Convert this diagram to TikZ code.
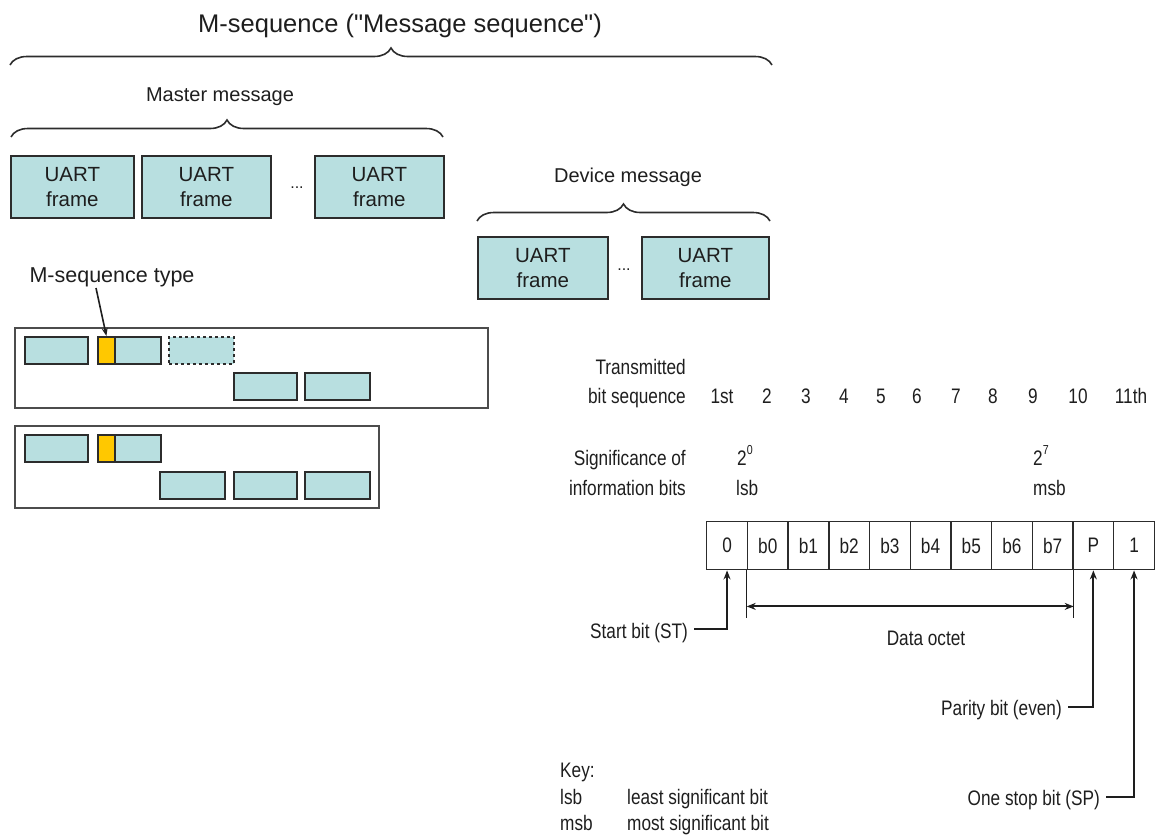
\documentclass[tikz,border=0pt]{standalone}
\usepackage{fontspec}
\setmainfont{Liberation Sans}
\newfontfamily\titlefont{Liberation Sans}[Ligatures=TeXOff]
\newfontfamily\narrowfont{Liberation Sans}[FakeStretch=0.82]
\usetikzlibrary{decorations.pathreplacing,arrows.meta}
\definecolor{framefill}{HTML}{B8DFE0}
\definecolor{typefill}{HTML}{FFC800}
\definecolor{ink}{HTML}{1E1E1E}
\definecolor{edge}{HTML}{2C2C2C}
\tikzset{
  uart/.style={draw=edge, line width=1.8pt, fill=framefill, align=center,
    anchor=north west, inner sep=0pt, font=\fontsize{20.5}{25}\selectfont,
    text=ink},
  slot/.style={draw=edge, line width=1.8pt, fill=framefill, anchor=north west,
    inner sep=0pt, minimum height=27pt},
  typeslot/.style={slot, fill=typefill, minimum width=17pt},
  seqbox/.style={draw=edge!85, line width=2.2pt, anchor=north west, inner sep=0pt},
  overbrace/.style={decorate, decoration={brace, amplitude=17pt}, draw=edge,
    line width=1.6pt},
  toptext/.style={text=ink, font=\fontsize{20}{24}\selectfont, inner sep=0pt},
  bittext/.style={text=ink, font=\narrowfont\fontsize{21}{26}\selectfont,
    inner sep=0pt},
  bitcell/.style={draw=edge, line width=1.4pt, minimum width=40.7pt,
    minimum height=48pt, inner sep=0pt, anchor=north west, text=ink,
    font=\narrowfont\fontsize{21}{26}\selectfont},
  pointer/.style={draw=ink, line width=1.8pt, -{Stealth[length=9pt,width=7pt]}},
  span/.style={draw=ink, line width=2pt,
    {Stealth[length=9pt,width=7pt]}-{Stealth[length=9pt,width=7pt]}},
}
\newcommand{\expo}[1]{\raisebox{0.5em}{\fontsize{13}{14}\selectfont #1}}
\begin{document}
\begin{tikzpicture}[x=1pt,y=-1pt]
\useasboundingbox (0,0) rectangle (1156,836);

% ---- message sequence overview ----
\node[toptext, font=\titlefont\fontsize{25.5}{30}\selectfont] (title) at (400,26)
  {M-sequence ("Message sequence")};
\draw[overbrace] (10,65) -- (772,65);

\node[toptext] (mastertxt) at (220,97) {Master message};
\draw[overbrace] (11,137) -- (443,137);

\node[uart, minimum width=123pt, minimum height=62pt] (m1) at (10,155) {UART\\frame};
\node[uart, minimum width=129pt, minimum height=62pt] (m2) at (141,155) {UART\\frame};
\node[uart, minimum width=129pt, minimum height=62pt] (m3) at (314,155) {UART\\frame};
\node[toptext, font=\fontsize{16}{18}\selectfont] (mdots) at (297,188) {...};

\node[toptext] (devtxt) at (628,177) {Device message};
\draw[overbrace] (477,221) -- (770,221);

\node[uart, minimum width=130pt, minimum height=62pt] (d1) at (477,236) {UART\\frame};
\node[uart, minimum width=127pt, minimum height=62pt] (d2) at (641,236) {UART\\frame};
\node[toptext, font=\fontsize{16}{18}\selectfont] (ddots) at (624,270) {...};

% ---- M-sequence types ----
\node[toptext, font=\fontsize{21.5}{24}\selectfont] (typetxt) at (112,277) {M-sequence type};

\node[seqbox, minimum width=473pt, minimum height=80pt] (seqA) at (14,327) {};
\node[slot, minimum width=63pt] (a1) at (24,336) {};
\node[slot, minimum width=63pt] (a2) at (97,336) {};
\node[typeslot] (a2t) at (97,336) {};
\node[slot, dashed, minimum width=65pt] (a3) at (168,336) {};
\node[slot, minimum width=63pt] (a4) at (233,372) {};
\node[slot, minimum width=65pt] (a5) at (304,372) {};

\node[seqbox, minimum width=364pt, minimum height=82pt] (seqB) at (14,425) {};
\node[slot, minimum width=63pt] (b1) at (24,434) {};
\node[slot, minimum width=63pt] (b2) at (97,434) {};
\node[typeslot] (b2t) at (97,434) {};
\node[slot, minimum width=65pt] (b3) at (159,471) {};
\node[slot, minimum width=63pt] (b4) at (233,471) {};
\node[slot, minimum width=65pt] (b5) at (304,471) {};

\coordinate (typefoot) at (96,288);
\draw[draw=ink, line width=1.6pt, -{Stealth[length=8pt,width=6pt]}]
  (typefoot) -- (a2t.north);

% ---- UART character frame ----
\node[bittext, anchor=base east] (trans1) at (686,374) {Transmitted};
\node[bittext, anchor=base east] (trans2) at (686,403) {bit sequence};
\foreach \t/\x [count=\i] in {1st/722,2/767,3/806,4/844,5/881,6/917,7/956,8/993,9/1033,10/1078,11th/1131}
  \node[bittext, anchor=base] (pos\i) at (\x,403) {\t};

\node[bittext, anchor=base east] (sig1) at (686,465) {Significance of};
\node[bittext, anchor=base east] (sig2) at (686,495) {information bits};
\node[bittext, anchor=base west] (lsbexp) at (737,465) {2\expo{0}};
\node[bittext, anchor=base west] (lsbtxt) at (736,495) {lsb};
\node[bittext, anchor=base west] (msbexp) at (1033,465) {2\expo{7}};
\node[bittext, anchor=base west] (msbtxt) at (1033,495) {msb};

\foreach \t [count=\i from 0] in {0,b0,b1,b2,b3,b4,b5,b6,b7,P,1}
  \node[bitcell] (c\i) at (706+\i*40.7,521) {\t};

% start bit
\node[bittext, anchor=base east] (stlbl) at (688,638) {Start bit (ST)};
\coordinate (stfoot) at (694,629);
\draw[pointer] (stfoot) -| (c0.south);

% data octet span
\draw[draw=ink, line width=1pt] (c1.south west) -- ++(0,48) coordinate (dlow);
\draw[draw=ink, line width=1pt] (c8.south east) -- ++(0,48) coordinate (dhigh);
\coordinate (spanL) at ([yshift=12pt]dlow);
\coordinate (spanR) at ([yshift=12pt]dhigh);
\draw[span] (spanL) -- (spanR);
\node[bittext, anchor=base] (octet) at (926,645) {Data octet};

% parity and stop bits
\node[bittext, anchor=base east] (parlbl) at (1062,715) {Parity bit (even)};
\coordinate (parfoot) at (1068,707);
\draw[pointer] (parfoot) -| (c9.south);
\node[bittext, anchor=base east] (splbl) at (1100,805) {One stop bit (SP)};
\coordinate (spfoot) at (1106,797);
\draw[pointer] (spfoot) -| (c10.south);

% key
\node[bittext, anchor=base west] (keyhead) at (560,777) {Key:};
\node[bittext, anchor=base west] (keylsb) at (560,804) {lsb};
\node[bittext, anchor=base west] (keylsbtxt) at (627,804) {least significant bit};
\node[bittext, anchor=base west] (keymsb) at (560,830) {msb};
\node[bittext, anchor=base west] (keymsbtxt) at (627,830) {most significant bit};
\end{tikzpicture}
\end{document}
